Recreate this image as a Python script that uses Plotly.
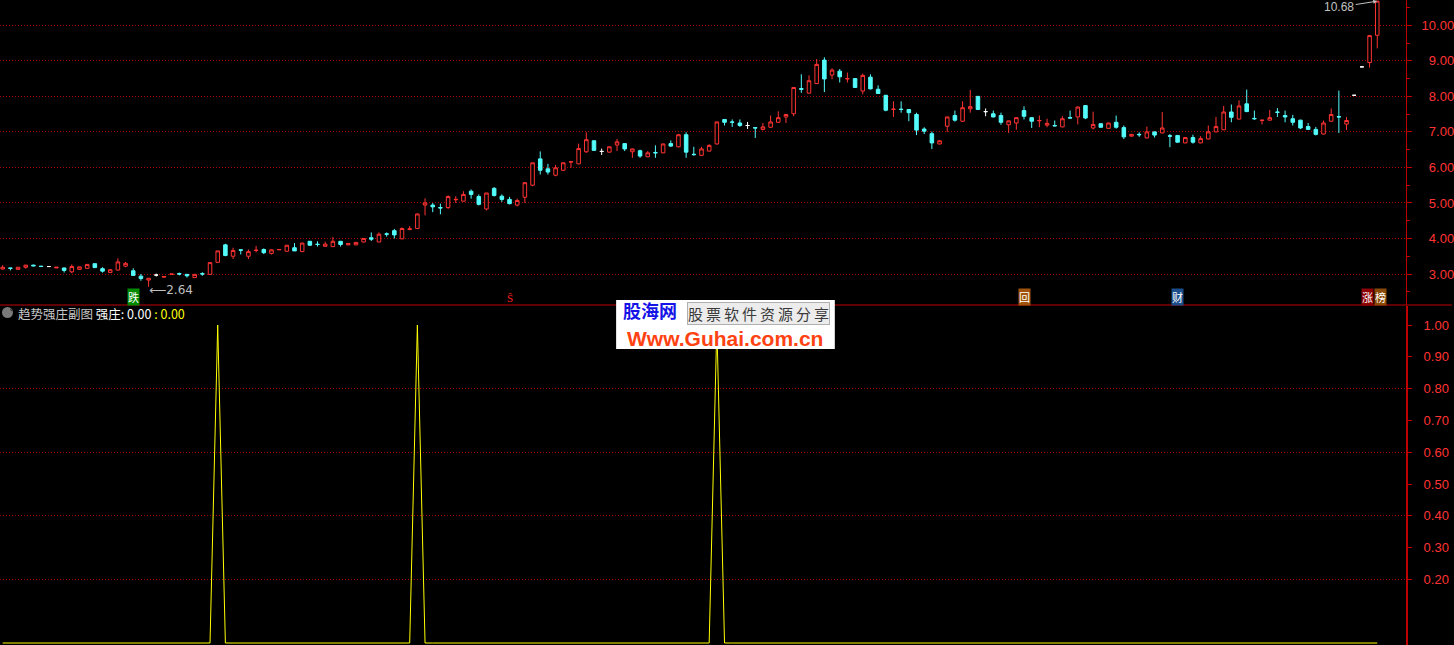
import plotly.graph_objects as go

# -------------------------------------------------
# Data — daily bars (index 0..179)
# -------------------------------------------------
opens = [
    3.14, 3.17, 3.13, 3.19, 3.25, 3.22, 3.21, 3.17, 3.17, 3.06,
    3.13, 3.16, 3.29, 3.15, 3.04, 3.11, 3.22, 3.09, 2.94, 2.83,
    2.97, 2.91, 2.99, 3.01, 2.99, 2.90, 3.01, 2.99, 3.33, 3.82,
    3.50, 3.68, 3.50, 3.66, 3.69, 3.58, 3.68, 3.64, 3.74, 3.63,
    3.92, 3.84, 3.78, 3.77, 3.92, 3.82, 3.82, 3.90, 4.02, 3.90,
    4.13, 4.22, 3.99, 4.25, 4.28, 4.94, 4.94, 4.87, 4.87, 5.09,
    5.05, 5.33, 5.18, 4.83, 5.41, 5.19, 5.10, 4.94, 5.16, 5.50,
    6.24, 5.96, 5.78, 5.92, 6.15, 6.10, 6.44, 6.75, 6.45, 6.43,
    6.63, 6.67, 6.44, 6.47, 6.30, 6.42, 6.41, 6.67, 6.58, 6.92,
    6.37, 6.34, 6.46, 6.66, 7.35, 7.28, 7.25, 7.18, 7.12, 7.07,
    7.13, 7.27, 7.42, 7.51, 8.22, 8.09, 8.36, 9.02, 8.60, 8.71,
    8.49, 8.50, 8.15, 8.54, 8.20, 8.03, 7.63, 7.64, 7.63, 7.49,
    7.08, 6.95, 6.66, 7.16, 7.46, 7.30, 7.65, 8.00, 7.57, 7.51,
    7.46, 7.20, 7.25, 7.60, 7.40, 7.31, 7.19, 7.18, 7.14, 7.40,
    7.42, 7.74, 7.11, 7.23, 7.10, 7.27, 7.12, 6.88, 6.93, 6.83,
    7.00, 6.97, 6.89, 6.90, 6.69, 6.84, 6.69, 6.80, 7.00, 7.06,
    7.56, 7.36, 7.79, 7.38, 7.32, 7.33, 7.56, 7.46, 7.37, 7.33,
    7.15, 7.07, 6.94, 7.30, 7.43, 7.22, 8.03, 8.83, 8.95, 9.72,
]
highs = [
    3.25, 3.17, 3.19, 3.25, 3.26, 3.23, 3.22, 3.19, 3.18, 3.27,
    3.21, 3.28, 3.30, 3.19, 3.13, 3.44, 3.34, 3.16, 3.00, 2.88,
    3.01, 2.93, 3.00, 3.04, 3.00, 2.99, 3.05, 3.32, 3.65, 3.85,
    3.74, 3.68, 3.69, 3.79, 3.72, 3.69, 3.70, 3.81, 3.87, 3.88,
    3.93, 3.92, 3.91, 4.04, 3.92, 3.87, 3.90, 4.01, 4.17, 4.17,
    4.17, 4.27, 4.31, 4.35, 4.70, 5.13, 5.00, 4.98, 5.21, 5.19,
    5.33, 5.38, 5.24, 5.28, 5.45, 5.24, 5.17, 5.12, 5.57, 6.13,
    6.45, 6.10, 6.07, 6.14, 6.16, 6.67, 6.99, 6.76, 6.53, 6.59,
    6.80, 6.68, 6.53, 6.50, 6.46, 6.62, 6.67, 6.76, 6.93, 6.99,
    6.58, 6.58, 6.65, 7.29, 7.36, 7.35, 7.35, 7.28, 7.12, 7.25,
    7.46, 7.58, 7.50, 8.25, 8.62, 8.59, 9.05, 9.10, 8.79, 8.77,
    8.67, 8.51, 8.64, 8.62, 8.31, 8.04, 7.86, 7.86, 7.64, 7.54,
    7.13, 7.01, 6.76, 7.43, 7.60, 7.86, 8.18, 8.01, 7.66, 7.60,
    7.54, 7.32, 7.41, 7.72, 7.41, 7.46, 7.37, 7.32, 7.44, 7.60,
    7.71, 7.75, 7.57, 7.24, 7.26, 7.46, 7.18, 6.94, 6.99, 7.15,
    7.01, 7.56, 6.94, 6.91, 6.85, 6.92, 6.88, 7.18, 7.42, 7.73,
    7.77, 7.89, 8.19, 7.60, 7.33, 7.62, 7.67, 7.60, 7.48, 7.34,
    7.25, 7.14, 7.32, 7.66, 8.16, 7.42, 8.03, 8.83, 9.71, 10.68,
]
lows = [
    3.13, 3.10, 3.13, 3.15, 3.22, 3.20, 3.20, 3.17, 3.04, 3.02,
    3.12, 3.15, 3.17, 3.04, 3.03, 3.10, 3.19, 2.95, 2.81, 2.64,
    2.93, 2.90, 2.99, 2.96, 2.90, 2.90, 2.95, 2.99, 3.32, 3.50,
    3.42, 3.55, 3.42, 3.61, 3.56, 3.55, 3.68, 3.64, 3.65, 3.63,
    3.79, 3.77, 3.78, 3.77, 3.77, 3.81, 3.81, 3.89, 3.93, 3.90,
    4.05, 4.00, 3.98, 4.25, 4.27, 4.65, 4.74, 4.68, 4.83, 5.00,
    5.05, 5.12, 4.93, 4.79, 5.18, 5.03, 4.96, 4.90, 5.00, 5.47,
    5.80, 5.80, 5.75, 5.91, 5.99, 6.10, 6.41, 6.47, 6.35, 6.41,
    6.46, 6.46, 6.27, 6.27, 6.29, 6.27, 6.40, 6.58, 6.56, 6.27,
    6.33, 6.33, 6.45, 6.65, 7.18, 7.14, 7.14, 7.08, 6.83, 7.04,
    7.12, 7.26, 7.25, 7.44, 8.10, 8.08, 8.35, 8.12, 8.48, 8.39,
    8.39, 8.24, 8.06, 8.20, 8.07, 7.58, 7.42, 7.54, 7.30, 6.91,
    6.94, 6.52, 6.65, 7.00, 7.29, 7.28, 7.54, 7.62, 7.44, 7.41,
    7.20, 6.97, 7.06, 7.35, 7.11, 7.13, 7.13, 7.16, 7.13, 7.39,
    7.21, 7.36, 7.07, 7.12, 7.09, 7.09, 6.80, 6.87, 6.86, 6.82,
    6.84, 6.96, 6.57, 6.70, 6.68, 6.67, 6.68, 6.79, 6.99, 7.05,
    7.27, 7.35, 7.56, 7.34, 7.21, 7.32, 7.42, 7.27, 7.18, 7.08,
    7.06, 6.90, 6.93, 7.29, 6.97, 7.05, 8.03, 8.83, 8.81, 9.35,
]
closes = [
    3.19, 3.16, 3.19, 3.25, 3.23, 3.21, 3.21, 3.19, 3.10, 3.21,
    3.20, 3.27, 3.18, 3.08, 3.12, 3.34, 3.30, 2.96, 2.87, 2.88,
    2.97, 2.93, 3.00, 3.00, 2.95, 2.99, 3.00, 3.32, 3.65, 3.52,
    3.66, 3.67, 3.63, 3.67, 3.60, 3.68, 3.69, 3.81, 3.65, 3.87,
    3.81, 3.83, 3.84, 3.92, 3.83, 3.86, 3.89, 4.00, 3.98, 4.12,
    4.12, 4.10, 4.28, 4.27, 4.69, 5.00, 4.89, 4.86, 5.18, 5.10,
    5.24, 5.24, 4.96, 5.28, 5.21, 5.10, 4.98, 5.07, 5.57, 6.13,
    5.92, 5.87, 5.99, 6.13, 6.16, 6.53, 6.78, 6.48, 6.45, 6.58,
    6.72, 6.52, 6.52, 6.32, 6.41, 6.41, 6.66, 6.60, 6.92, 6.43,
    6.36, 6.52, 6.62, 7.28, 7.27, 7.27, 7.18, 7.18, 7.11, 7.14,
    7.28, 7.40, 7.49, 8.25, 8.20, 8.44, 8.90, 8.49, 8.74, 8.55,
    8.50, 8.25, 8.59, 8.21, 8.08, 7.61, 7.64, 7.63, 7.54, 7.05,
    7.02, 6.69, 6.75, 7.42, 7.33, 7.68, 7.71, 7.63, 7.57, 7.42,
    7.27, 7.31, 7.40, 7.44, 7.30, 7.32, 7.24, 7.17, 7.37, 7.39,
    7.70, 7.39, 7.21, 7.13, 7.25, 7.13, 6.86, 6.93, 6.92, 7.00,
    6.91, 7.11, 6.88, 6.71, 6.84, 6.71, 6.81, 7.00, 7.15, 7.56,
    7.41, 7.73, 7.57, 7.37, 7.33, 7.40, 7.55, 7.42, 7.27, 7.11,
    7.07, 6.93, 7.25, 7.49, 7.42, 7.32, 8.03, 8.83, 9.71, 10.68,
]

# 强庄 indicator (sub-chart)
strength = [
    0, 0, 0, 0, 0, 0, 0, 0, 0, 0, 0, 0, 0, 0, 0, 0, 0, 0, 0, 0,
    0, 0, 0, 0, 0, 0, 0, 0, 1, 0, 0, 0, 0, 0, 0, 0, 0, 0, 0, 0,
    0, 0, 0, 0, 0, 0, 0, 0, 0, 0, 0, 0, 0, 0, 1, 0, 0, 0, 0, 0,
    0, 0, 0, 0, 0, 0, 0, 0, 0, 0, 0, 0, 0, 0, 0, 0, 0, 0, 0, 0,
    0, 0, 0, 0, 0, 0, 0, 0, 0, 0, 0, 0, 0, 1, 0, 0, 0, 0, 0, 0,
    0, 0, 0, 0, 0, 0, 0, 0, 0, 0, 0, 0, 0, 0, 0, 0, 0, 0, 0, 0,
    0, 0, 0, 0, 0, 0, 0, 0, 0, 0, 0, 0, 0, 0, 0, 0, 0, 0, 0, 0,
    0, 0, 0, 0, 0, 0, 0, 0, 0, 0, 0, 0, 0, 0, 0, 0, 0, 0, 0, 0,
    0, 0, 0, 0, 0, 0, 0, 0, 0, 0, 0, 0, 0, 0, 0, 0, 0, 0, 0, 0,
]

price_ticks = [3, 4, 5, 6, 7, 8, 9, 10]
sub_ticks = [0.2, 0.3, 0.4, 0.5, 0.6, 0.7, 0.8, 0.9, 1.0]
sub_grid = [0.2, 0.4, 0.6, 0.8]

# event tags under the price pane: (bar, text, font colour, background)
tags = [
    (17, "跌", "#ffffff", "#008a00"),
    (66, "Ŝ", "#ff2020", "rgba(0,0,0,0)"),
    (133, "回", "#ffffff", "#a0520a"),
    (153, "财", "#ffffff", "#1d4e8c"),
]

low_bar, low_val = 19, 2.64
high_bar, high_val = 179, 10.68

bars = list(range(len(closes)))

# -------------------------------------------------
# Colours / helpers
# -------------------------------------------------
RED = "#ff3333"
CYAN = "#54fcfc"
GRID = "#b00000"
AXIS = "#c00000"
W, H = 1454, 645
PLOT_W = 1408


def _subset(idx):
    return dict(
        x=[bars[i] for i in idx],
        open=[opens[i] for i in idx],
        high=[highs[i] for i in idx],
        low=[lows[i] for i in idx],
        close=[closes[i] for i in idx],
    )


def _candles(idx, line_color, fill_color):
    side = dict(line=dict(color=line_color, width=1), fillcolor=fill_color)
    return go.Candlestick(
        **_subset(idx),
        increasing=side,
        decreasing=side,
        whiskerwidth=0,
        hoverinfo="skip",
        xaxis="x",
        yaxis="y",
    )


up_idx = [i for i in bars if closes[i] > opens[i]]
down_idx = [i for i in bars if closes[i] < opens[i]]
flat_idx = [i for i in bars if closes[i] == opens[i]]

fig = go.Figure()

# ---- price pane ----
fig.add_trace(_candles(up_idx, RED, "#000000"))
fig.add_trace(_candles(down_idx, CYAN, CYAN))
fig.add_trace(_candles(flat_idx, "#ffffff", "#ffffff"))

# ---- indicator pane ----
fig.add_trace(
    go.Scatter(
        x=bars,
        y=strength,
        mode="lines",
        line=dict(color="#ffff00", width=1),
        hoverinfo="skip",
        xaxis="x2",
        yaxis="y2",
    )
)

fig_space = "\u2007"
price_text = [f"{v:.2f}".rjust(5, fig_space) for v in price_ticks]
sub_text = [f"{v:.2f}" for v in sub_ticks]

top_domain = [1 - 305 / H, 1]
bot_domain = [0, 1 - 306 / H]
x_range = [-2.7 / 7.69, (PLOT_W - 2.7) / 7.69]

tick_font = dict(family="Liberation Sans, Arial, sans-serif", size=13, color=RED)

fig.update_layout(
    width=W,
    height=H,
    margin=dict(l=0, r=W - PLOT_W, t=0, b=0),
    paper_bgcolor="#000000",
    plot_bgcolor="#000000",
    showlegend=False,
    boxgap=0.34,
    hovermode=False,
    xaxis=dict(
        domain=[0, 1],
        range=x_range,
        anchor="y",
        showticklabels=False,
        showgrid=False,
        zeroline=False,
        showline=False,
        rangeslider=dict(visible=False),
    ),
    xaxis2=dict(
        domain=[0, 1],
        range=x_range,
        anchor="y2",
        matches="x",
        showticklabels=False,
        showgrid=False,
        zeroline=False,
        showline=False,
    ),
    yaxis=dict(
        domain=top_domain,
        range=[3 - 31 / 35.53, 10 + 25.3 / 35.53],
        side="right",
        anchor="x",
        tickvals=price_ticks,
        ticktext=price_text,
        tickfont=tick_font,
        ticks="outside",
        ticklen=5,
        tickcolor=AXIS,
        ticklabelstandoff=7,
        showgrid=True,
        gridcolor=GRID,
        griddash="1px,2px",
        gridwidth=1,
        zeroline=False,
        showline=True,
        linecolor=AXIS,
        linewidth=1,
        minor=dict(dtick=0.5, ticks="outside", ticklen=3, tickcolor=AXIS, showgrid=False),
    ),
    yaxis2=dict(
        domain=bot_domain,
        range=[-2 / 318, 1 + 19 / 318],
        side="right",
        anchor="x2",
        tickvals=sub_ticks,
        ticktext=sub_text,
        tickfont=tick_font,
        ticks="outside",
        ticklen=4,
        tickcolor=AXIS,
        ticklabelstandoff=9,
        showgrid=False,
        zeroline=False,
        showline=True,
        linecolor=AXIS,
        linewidth=2,
        minor=dict(
            tickvals=sub_grid,
            ticks="",
            showgrid=True,
            gridcolor=GRID,
            griddash="1px,2px",
            gridwidth=1,
        ),
    ),
)

# ---- pane divider ----
fig.add_shape(
    type="line", xref="paper", yref="paper",
    x0=0, x1=W / PLOT_W, y0=1 - 305 / H, y1=1 - 305 / H,
    line=dict(color=AXIS, width=1),
)

# ---- tags along the price pane bottom ----
tag_y = 1 - 297 / H
for bar, text, color, bg in tags:
    fig.add_annotation(
        x=bar, xref="x", y=tag_y, yref="paper",
        text=text, showarrow=False,
        font=dict(family="Noto Sans CJK SC", size=11, color=color),
        bgcolor=bg, borderpad=0,
    )
fig.add_annotation(
    x=178.55, xref="x", y=tag_y, yref="paper", xanchor="right",
    text="涨", showarrow=False,
    font=dict(family="Noto Sans CJK SC", size=11, color="#ffffff"),
    bgcolor="#8c0000", borderpad=0,
)
fig.add_annotation(
    x=178.55, xref="x", y=tag_y, yref="paper", xanchor="left",
    text="榜", showarrow=False,
    font=dict(family="Noto Sans CJK SC", size=11, color="#ffffff"),
    bgcolor="#8a4a06", borderpad=0,
)

# ---- extreme value marks ----
fig.add_annotation(
    x=low_bar, y=low_val, xref="x", yref="y",
    text=f"⟵{low_val:.2f}", showarrow=False,
    xanchor="left", yanchor="middle", xshift=-2, yshift=-3,
    font=dict(family="DejaVu Sans, Liberation Sans", size=12, color="#c0c0c0"),
)
fig.add_annotation(
    x=high_bar, y=high_val, xref="x", yref="y",
    text=f"{high_val:.2f}", showarrow=True,
    ax=-38, ay=6, arrowhead=2, arrowsize=0.8, arrowwidth=1,
    arrowcolor="#c0c0c0",
    font=dict(family="Liberation Sans, Arial", size=12, color="#c0c0c0"),
)

# ---- indicator header ----
fig.add_shape(
    type="circle", xref="paper", yref="paper",
    x0=2 / PLOT_W, x1=13 / PLOT_W, y0=1 - 318 / H, y1=1 - 307 / H,
    line=dict(width=0), fillcolor="#7a7a7a",
)
fig.add_annotation(
    x=7.5 / PLOT_W, y=1 - 313 / H, xref="paper", yref="paper",
    text="˅", showarrow=False,
    font=dict(family="DejaVu Sans", size=10, color="#1a1a1a"),
)
fig.add_annotation(
    x=16 / PLOT_W, y=1 - 313 / H, xref="paper", yref="paper",
    xanchor="left", yanchor="middle", showarrow=False,
    text=(
        '<span style="color:#c8c8c8">趋势强庄副图</span> '
        '<span style="color:#ffffff">强庄: 0.00</span> '
        '<span style="color:#ffff00">: 0.00</span>'
    ),
    font=dict(family="Noto Sans CJK SC", size=12.5),
)

# ---- site watermark ----
fig.add_shape(
    type="rect", xref="paper", yref="paper", layer="above",
    x0=617 / PLOT_W, x1=836 / PLOT_W, y0=1 - 349 / H, y1=1 - 300 / H,
    line=dict(width=0), fillcolor="#ffffff",
)
fig.add_annotation(
    x=651 / PLOT_W, y=1 - 324 / H, xref="paper", yref="paper",
    yanchor="bottom", borderpad=0,
    text="<b>股海网</b>", showarrow=False,
    font=dict(family="Noto Sans CJK SC", size=18, color="#1414e6"),
)
fig.add_annotation(
    x=760 / PLOT_W, y=1 - 313 / H, xref="paper", yref="paper",
    text="\u2009".join("股票软件资源分享"), showarrow=False,
    font=dict(family="Noto Sans CJK SC", size=15, color="#3a3a3a"),
    bgcolor="#ececec", bordercolor="#b0b0b0", borderwidth=1, borderpad=0,
)
fig.add_annotation(
    x=726 / PLOT_W, y=1 - 326 / H, xref="paper", yref="paper",
    yanchor="top", borderpad=0,
    text="<b>Www.Guhai.com.cn</b>", showarrow=False,
    font=dict(family="Liberation Sans, Arial", size=21, color="#ff4212"),
)

# page has no body margin, so the chart sits flush with the window
fig.write_html(
    "out.html",
    config={"displayModeBar": False},
    post_script="document.body.style.margin='0';",
)
